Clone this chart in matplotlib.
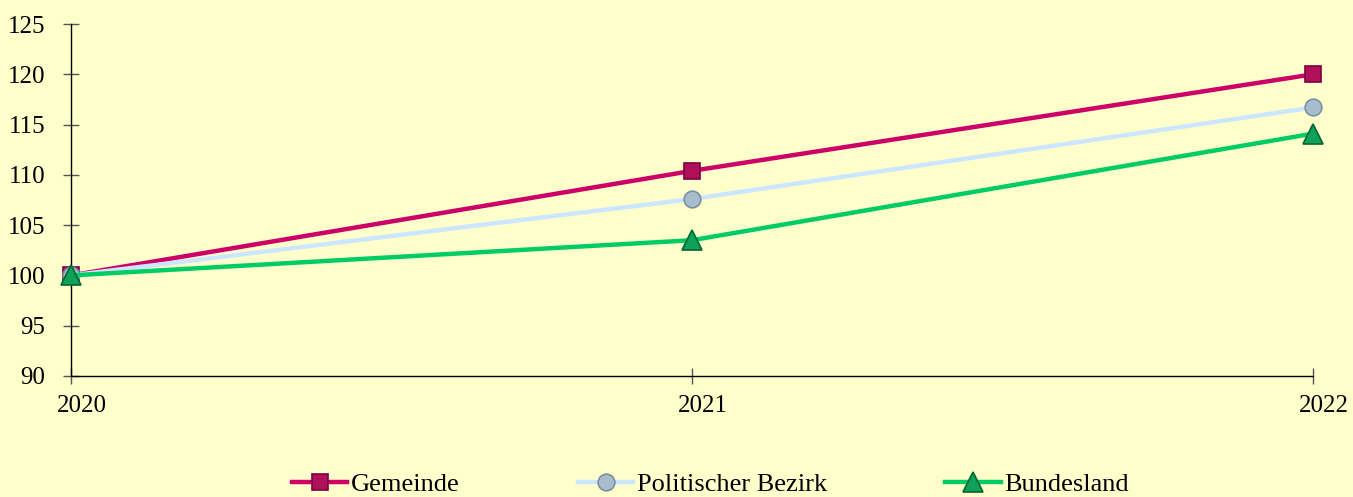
import matplotlib.pyplot as plt
import matplotlib.transforms as mtransforms
from matplotlib.lines import Line2D

years = [2020, 2021, 2022]
gemeinde = [100.0, 110.4, 120.0]
bezirk = [100.0, 107.6, 116.7]
bundesland = [100.0, 103.5, 114.1]

series_names = ["Gemeinde", "Politischer Bezirk", "Bundesland"]
y_ticks = [90, 95, 100, 105, 110, 115, 120, 125]

BG = "#ffffcc"

plt.rcParams["font.family"] = ["Liberation Serif", "DejaVu Serif"]

fig = plt.figure(figsize=(13.53, 4.97), dpi=100, facecolor=BG)
ax = fig.add_axes([0.0525, 0.2435, 0.918, 0.7082])
ax.set_facecolor(BG)

styles = [
    dict(color="#cc0066", marker="s", ms=12, mfc="#b0105a", mec="#7a0040"),
    dict(color="#cce6ff", marker="o", ms=12, mfc="#a8bccc", mec="#7890a4"),
    dict(color="#00cc66", marker="^", ms=14, mfc="#10a058", mec="#006633"),
]

for values, name, st in zip([gemeinde, bezirk, bundesland], series_names, styles):
    ax.plot(years, values, color=st["color"], lw=3.2, marker=st["marker"],
            ms=st["ms"], mfc=st["mfc"], mec=st["mec"], mew=1.2,
            label=name, zorder=3, clip_on=False)

ax.set_xlim(2020, 2022)
ax.set_ylim(90, 125)
ax.set_xticks(years)
ax.set_xticklabels([str(y) for y in years])
ax.set_yticks(y_ticks)

for side in ("top", "right"):
    ax.spines[side].set_visible(False)
for side in ("left", "bottom"):
    ax.spines[side].set_color("black")
    ax.spines[side].set_linewidth(1)

ax.tick_params(axis="both", direction="inout", length=11, width=1,
               color="#555555", labelsize=18, labelcolor="black")
ax.tick_params(axis="y", pad=13)
ax.tick_params(axis="x", pad=8)

# year labels sit a little to the right of their ticks in the original
shift = mtransforms.ScaledTranslation(11 / 100, 0, fig.dpi_scale_trans)
for lbl in ax.get_xticklabels():
    lbl.set_transform(lbl.get_transform() + shift)

handles = [
    Line2D([], [], color=st["color"], lw=3.2, marker=st["marker"], ms=st["ms"],
           mfc=st["mfc"], mec=st["mec"], mew=1.2)
    for st in styles
]
fig.legend(handles, series_names, loc="center", bbox_to_anchor=(0.525, 0.026),
           ncol=3, frameon=False, fontsize=19, handlelength=2.1,
           handletextpad=0.12, columnspacing=4.5, borderpad=0.1)

fig.savefig("out.png", dpi=100, facecolor=BG)
